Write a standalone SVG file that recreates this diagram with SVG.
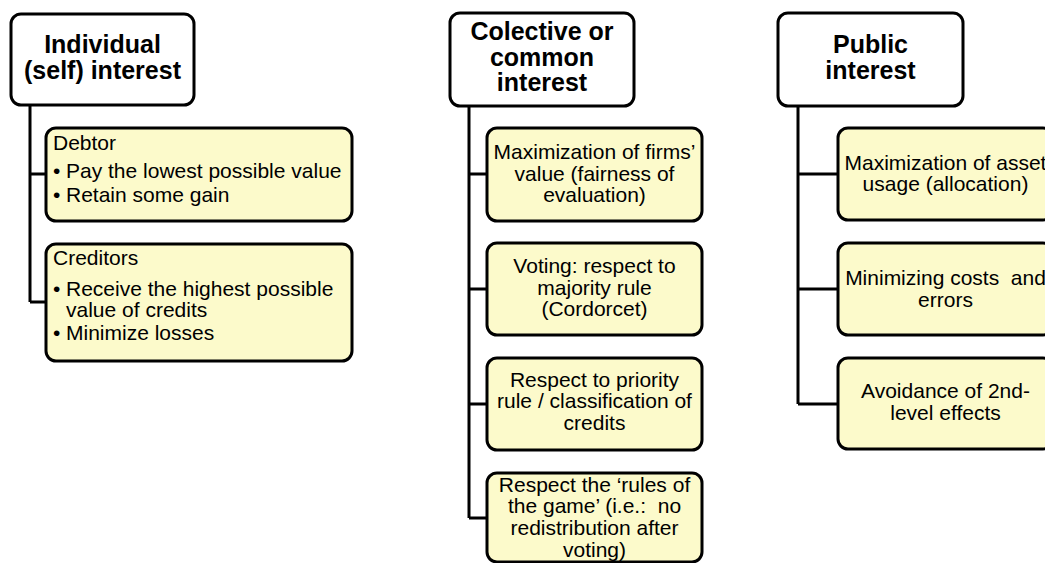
<svg xmlns="http://www.w3.org/2000/svg" width="1045" height="563" viewBox="0 0 1045 563">
<style>
.hdr{fill:#FFFFFF;stroke:#000;stroke-width:3}
.box{fill:#FCFACB;stroke:#000;stroke-width:3}
.ht{font-family:"Liberation Sans",Arial,sans-serif;font-weight:bold;font-size:25px;fill:#000;text-anchor:middle}
.bt{font-family:"Liberation Sans",Arial,sans-serif;font-size:21px;fill:#000;text-anchor:middle;white-space:pre}
.lt{font-family:"Liberation Sans",Arial,sans-serif;font-size:21px;fill:#000;white-space:pre}
.con{fill:none;stroke:#000;stroke-width:3}
</style>
<rect width="1045" height="563" fill="#FFFFFF"/>
<g id="connectors">
<path class="con" d="M30,105 V302 M30,174 H46 M30,302 H46"/>
<path class="con" d="M469,106 V518 M469,174 H487 M469,289 H487 M469,404 H487 M469,518 H487"/>
<path class="con" d="M798,106 V404 M798,174 H838 M798,289 H838 M798,404 H838"/>
</g>
<g id="individual">
<rect class="hdr" x="11" y="14" width="183" height="91" rx="10"/>
<text class="ht" x="102.5" y="53">Individual</text>
<text class="ht" x="102.5" y="79">(self) interest</text>
</g>
<g id="debtor">
<rect class="box" x="46" y="128" width="306" height="93" rx="10"/>
<text class="lt" x="53" y="150">Debtor</text>
<text class="lt" x="53" y="178">•</text><text class="lt" x="66" y="178">Pay the lowest possible value</text>
<text class="lt" x="53" y="202">•</text><text class="lt" x="66" y="202">Retain some gain</text>
</g>
<g id="creditors">
<rect class="box" x="46" y="244" width="306" height="117" rx="10"/>
<text class="lt" x="53" y="265">Creditors</text>
<text class="lt" x="53" y="296">•</text><text class="lt" x="66" y="296">Receive the highest possible</text>
<text class="lt" x="66" y="317">value of credits</text>
<text class="lt" x="53" y="340">•</text><text class="lt" x="66" y="340">Minimize losses</text>
</g>
<g id="collective">
<rect class="hdr" x="450" y="13" width="184" height="93" rx="10"/>
<text class="ht" x="542" y="40">Colective or</text>
<text class="ht" x="542" y="65.5">common</text>
<text class="ht" x="542" y="91">interest</text>
</g>
<g id="maximization-firms">
<rect class="box" x="487" y="128" width="215" height="93" rx="10"/>
<text class="bt" x="594.5" y="159">Maximization of firms’</text>
<text class="bt" x="594.5" y="181">value (fairness of</text>
<text class="bt" x="594.5" y="202">evaluation)</text>
</g>
<g id="voting">
<rect class="box" x="487" y="243" width="215" height="92" rx="10"/>
<text class="bt" x="594.5" y="273">Voting: respect to</text>
<text class="bt" x="594.5" y="295">majority rule</text>
<text class="bt" x="594.5" y="316">(Cordorcet)</text>
</g>
<g id="priority">
<rect class="box" x="487" y="358" width="215" height="92" rx="10"/>
<text class="bt" x="594.5" y="387">Respect to priority</text>
<text class="bt" x="594.5" y="408">rule / classification of</text>
<text class="bt" x="594.5" y="430">credits</text>
</g>
<g id="rules-game">
<rect class="box" x="487" y="473" width="215" height="89" rx="10"/>
<text class="bt" x="594.5" y="492">Respect the ‘rules of</text>
<text class="bt" x="594.5" y="513">the game’ (i.e.:  no</text>
<text class="bt" x="594.5" y="535">redistribution after</text>
<text class="bt" x="594.5" y="557">voting)</text>
</g>
<g id="public">
<rect class="hdr" x="778" y="13" width="185" height="93" rx="10"/>
<text class="ht" x="870.5" y="53">Public</text>
<text class="ht" x="870.5" y="79">interest</text>
</g>
<g id="asset-usage">
<rect class="box" x="838" y="128" width="215" height="92" rx="10"/>
<text class="bt" x="945.5" y="170">Maximization of asset</text>
<text class="bt" x="945.5" y="191">usage (allocation)</text>
</g>
<g id="costs-errors">
<rect class="box" x="838" y="243" width="215" height="92" rx="10"/>
<text class="bt" x="945.5" y="285">Minimizing costs  and</text>
<text class="bt" x="945.5" y="307">errors</text>
</g>
<g id="second-level">
<rect class="box" x="838" y="358" width="215" height="91" rx="10"/>
<text class="bt" x="945.5" y="398">Avoidance of 2nd-</text>
<text class="bt" x="945.5" y="420">level effects</text>
</g>
</svg>
